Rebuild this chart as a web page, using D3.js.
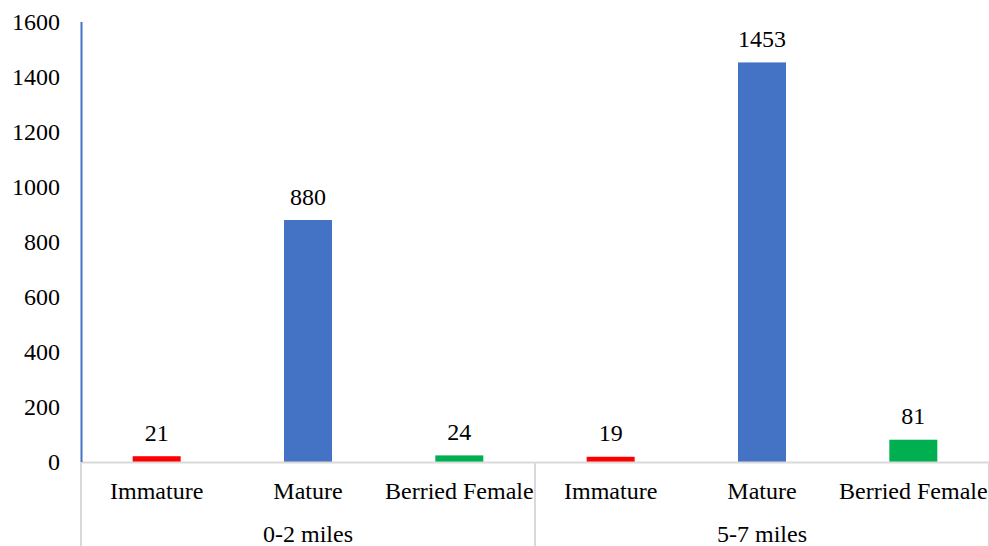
<!DOCTYPE html>
<html><head><meta charset="utf-8">
<script src="https://cdn.jsdelivr.net/npm/d3@7"></script>
<style>body{margin:0;background:#fff}svg{display:block}</style>
</head><body><svg id="c" width="989" height="546"></svg>
<script>
const groups = ["0-2 miles", "5-7 miles"];
const categories = ["Immature", "Mature", "Berried Female"];
const values02 = [21, 880, 24];
const values57 = [19, 1453, 81];
const colors = ["#FF0000", "#4472C4", "#00B050"];
const yTicks = [0, 200, 400, 600, 800, 1000, 1200, 1400, 1600];

(function () {
const FONT = "'Liberation Serif', 'Times New Roman'";
const FS = 24;
const rows = [];
groups.forEach((g, gi) => categories.forEach((c, ci) => rows.push({
  key: g + "|" + c, group: g, cat: c, ci, value: (gi === 0 ? values02 : values57)[ci]
})));

const svg = d3.select("#c");
const mL = 81, mR = 989, mT = 22, mB = 462;
const x = d3.scaleBand().domain(rows.map(d => d.key)).range([mL, mR]).paddingInner(0).paddingOuter(0);
const y = d3.scaleLinear().domain([0, 1600]).range([mB, mT]);
const bw = 48;

function txt(sel) {
  return sel.style("font-family", FONT).attr("font-size", FS).attr("fill", "#000");
}

txt(svg.append("g").selectAll("text").data(yTicks).join("text"))
  .attr("x", 60).attr("y", d => y(d)).attr("dy", "0.33em")
  .attr("text-anchor", "end").text(d => d);

svg.append("g").selectAll("rect").data(rows).join("rect")
  .attr("x", d => x(d.key) + x.bandwidth() / 2 - bw / 2)
  .attr("width", bw)
  .attr("y", d => y(d.value))
  .attr("height", d => mB - y(d.value))
  .attr("fill", d => colors[d.ci]);

txt(svg.append("g").selectAll("text").data(rows).join("text"))
  .attr("x", d => x(d.key) + x.bandwidth() / 2)
  .attr("y", d => y(d.value) - 15.5)
  .attr("text-anchor", "middle").text(d => d.value);

svg.append("line").attr("x1", mL).attr("x2", mR).attr("y1", mB + 0.5).attr("y2", mB + 0.5)
  .attr("stroke", "#D9D9D9").attr("stroke-width", 2);

const gw = (mR - mL) / groups.length;
const seps = d3.range(groups.length + 1).map(i => mL + i * gw);
svg.append("g").selectAll("line").data(seps).join("line")
  .attr("x1", d => d).attr("x2", d => d).attr("y1", mB).attr("y2", 546)
  .attr("stroke", "#D9D9D9").attr("stroke-width", 2);

svg.append("line").attr("x1", mL + 0.5).attr("x2", mL + 0.5).attr("y1", mT).attr("y2", mB)
  .attr("stroke", "#4472C4").attr("stroke-width", 2);

txt(svg.append("g").selectAll("text").data(rows).join("text"))
  .attr("x", d => x(d.key) + x.bandwidth() / 2).attr("y", 499)
  .attr("text-anchor", "middle").text(d => d.cat);

txt(svg.append("g").selectAll("text").data(groups).join("text"))
  .attr("x", (d, i) => mL + (i + 0.5) * gw).attr("y", 542)
  .attr("text-anchor", "middle").text(d => d);
})();
</script></body></html>
